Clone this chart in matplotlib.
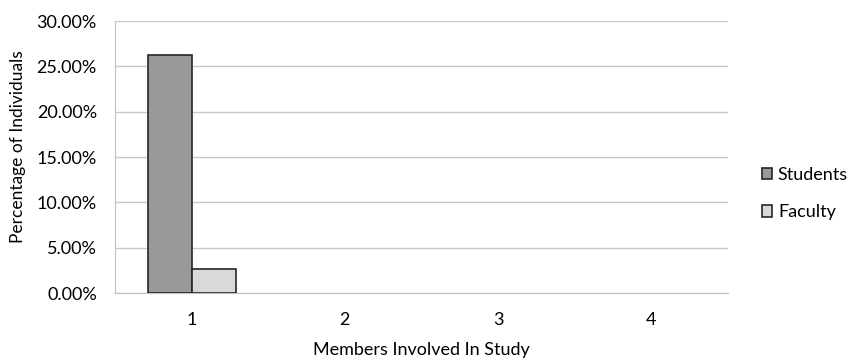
import numpy as np
import matplotlib.pyplot as plt

plt.rcParams['font.family'] = ['Lato', 'DejaVu Sans']

# Percentages per number of members involved
membros = ['1', '2', '3', '4']
estudantes = [26.3, 0, 0, 0]
docentes = [2.6, 0, 0, 0]

fig = plt.figure(figsize=(8.51, 3.6), dpi=100)
ax = fig.add_axes([0.1351, 0.186, 0.7203, 0.7556])

x = np.arange(len(membros))
largura = 0.287

# zero-height bars get no outline, so nothing shows for them
def bordas(valores):
    return [1.2 if v > 0 else 0 for v in valores]

ax.bar(x - largura / 2, estudantes, largura, color='#999999', edgecolor='#262626',
       linewidth=bordas(estudantes), label='Students', zorder=3)
ax.bar(x + largura / 2, docentes, largura, color='#d9d9d9', edgecolor='#262626',
       linewidth=bordas(docentes), label='Faculty', zorder=3)

ax.set_xlim(-0.5, 3.5)
ax.set_ylim(0, 30)
ax.set_yticks(np.arange(0, 31, 5))
ax.set_yticklabels([f'{v:.2f}%' for v in np.arange(0, 31, 5)])
ax.set_xticks(x)
ax.set_xticklabels(membros)
ax.grid(axis='y', color='#c8c8c8', linewidth=1, zorder=0)

for lado in ['top', 'right']:
    ax.spines[lado].set_visible(False)
for lado in ['left', 'bottom']:
    ax.spines[lado].set_color('#bfbfbf')
ax.tick_params(axis='y', length=0, labelsize=13, pad=13)
ax.tick_params(axis='x', length=0, labelsize=13, pad=14)

ax.set_xlabel('Members Involved In Study', fontsize=13, labelpad=10)
ax.set_ylabel('Percentage of Individuals', fontsize=12.5)
ax.yaxis.set_label_coords(-0.145, 0.54)

ax.legend(loc='center left', bbox_to_anchor=(1.055, 0.366), frameon=False,
          fontsize=13, handlelength=0.6, handleheight=0.6, handletextpad=0.3,
          labelspacing=1.2, borderpad=0, borderaxespad=0)

fig.savefig('out.png', dpi=100)
